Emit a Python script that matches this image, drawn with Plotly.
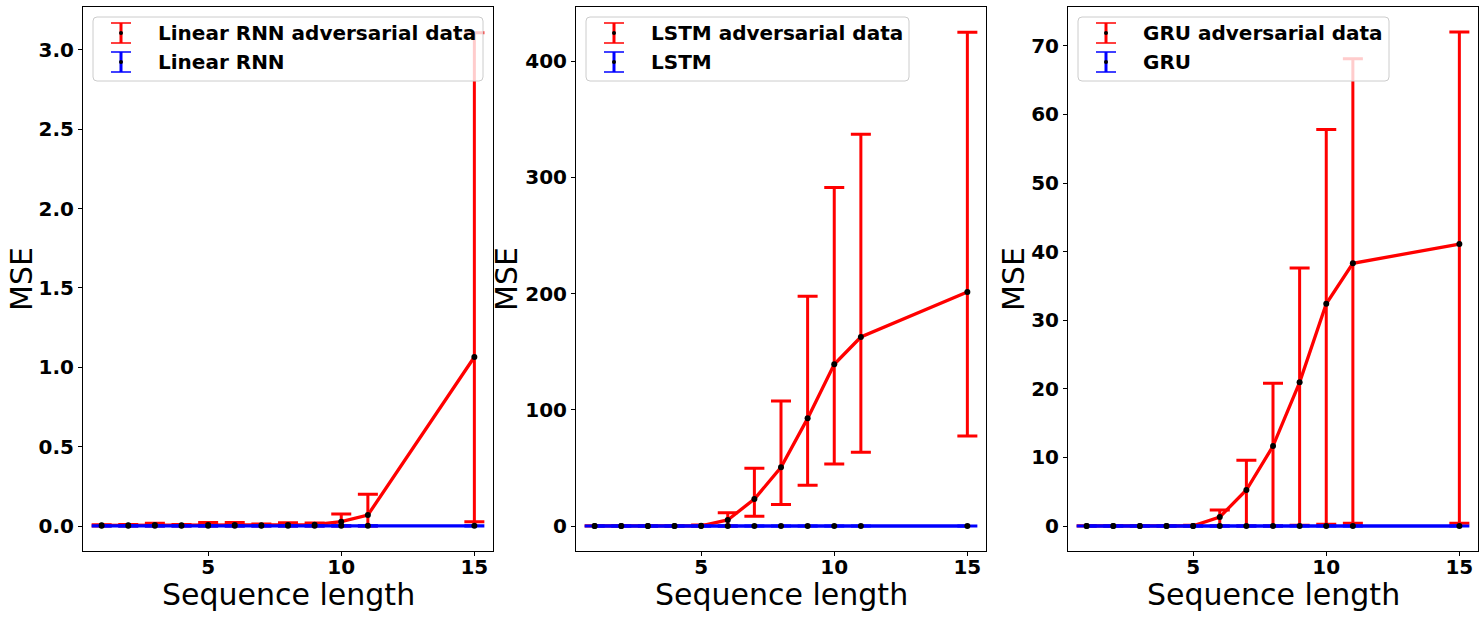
import numpy as np
import plotly.graph_objects as go
from plotly.subplots import make_subplots

W, H = 1484, 617

# sequence lengths on the x axis
seq_len = [1, 2, 3, 4, 5, 6, 7, 8, 9, 10, 11, 15]

# Linear RNN
rnn_adv_mean = [0.004, 0.004, 0.006, 0.004, 0.006, 0.007, 0.005, 0.006, 0.008, 0.027, 0.069, 1.065]
rnn_adv_hi = [0.008, 0.009, 0.017, 0.010, 0.022, 0.022, 0.012, 0.020, 0.019, 0.076, 0.200, 3.107]
rnn_adv_lo = [0.0, 0.0, 0.0, 0.0, 0.0, 0.0, 0.0, 0.0, 0.0, 0.0, 0.0, 0.027]
rnn_mean = [0.001, 0.001, 0.001, 0.001, 0.001, 0.001, 0.001, 0.001, 0.001, 0.001, 0.001, 0.001]
rnn_hi = [0.002, 0.002, 0.002, 0.002, 0.002, 0.002, 0.002, 0.002, 0.002, 0.002, 0.002, 0.002]
rnn_lo = [0.0, 0.0, 0.0, 0.0, 0.0, 0.0, 0.0, 0.0, 0.0, 0.0, 0.0, 0.0]

# LSTM
lstm_adv_mean = [0.05, 0.05, 0.05, 0.05, 0.2, 5.2, 23.2, 50.5, 92.6, 139.1, 162.6, 201.3]
lstm_adv_hi = [0.3, 0.3, 0.3, 0.3, 0.8, 11.5, 49.6, 107.5, 197.6, 291.3, 337.0, 424.7]
lstm_adv_lo = [0.0, 0.0, 0.0, 0.0, 0.0, 0.0, 8.3, 18.6, 35.0, 53.3, 63.4, 77.4]
lstm_mean = [0.02, 0.02, 0.02, 0.02, 0.02, 0.02, 0.02, 0.02, 0.02, 0.02, 0.02, 0.02]
lstm_hi = [0.1, 0.1, 0.1, 0.1, 0.1, 0.1, 0.1, 0.1, 0.1, 0.1, 0.1, 0.1]
lstm_lo = [0.0, 0.0, 0.0, 0.0, 0.0, 0.0, 0.0, 0.0, 0.0, 0.0, 0.0, 0.0]

# GRU
gru_adv_mean = [0.01, 0.01, 0.01, 0.01, 0.02, 1.31, 5.25, 11.66, 20.95, 32.4, 38.3, 41.1]
gru_adv_hi = [0.05, 0.05, 0.05, 0.05, 0.1, 2.33, 9.6, 20.8, 37.6, 57.8, 68.1, 72.0]
gru_adv_lo = [0.0, 0.0, 0.0, 0.0, 0.0, 0.0, 0.0, 0.0, 0.1, 0.25, 0.4, 0.4]
gru_mean = [0.005, 0.005, 0.005, 0.005, 0.005, 0.005, 0.005, 0.005, 0.005, 0.005, 0.005, 0.005]
gru_hi = [0.02, 0.02, 0.02, 0.02, 0.02, 0.02, 0.02, 0.02, 0.02, 0.02, 0.02, 0.02]
gru_lo = [0.0, 0.0, 0.0, 0.0, 0.0, 0.0, 0.0, 0.0, 0.0, 0.0, 0.0, 0.0]

panels = [
    ("Linear RNN", (rnn_adv_mean, rnn_adv_hi, rnn_adv_lo), (rnn_mean, rnn_hi, rnn_lo),
     [-0.1575, 3.270], [0, 0.5, 1.0, 1.5, 2.0, 2.5, 3.0], ".1f"),
    ("LSTM", (lstm_adv_mean, lstm_adv_hi, lstm_adv_lo), (lstm_mean, lstm_hi, lstm_lo),
     [-21.5, 446.5], [0, 100, 200, 300, 400], "d"),
    ("GRU", (gru_adv_mean, gru_adv_hi, gru_adv_lo), (gru_mean, gru_hi, gru_lo),
     [-3.64, 75.66], [0, 10, 20, 30, 40, 50, 60, 70], "d"),
]

# plot area edges in pixels (left spine, right spine)
x_edges = [(83, 493), (576, 986), (1068, 1478)]
top_px, bot_px = 7, 551
mse_x = [21, 506, 1013]
legend_right = [483, 909, 1389]

FONT = "DejaVu Sans"


def px(x):
    return x / W


def py(y):
    return 1 - y / H


def err_trace(mean, hi, lo, color, name):
    mean = np.array(mean)
    return go.Scatter(
        x=seq_len, y=mean, mode="lines+markers", name=name,
        line=dict(color=color, width=3.3),
        marker=dict(color="black", size=6),
        error_y=dict(type="data", symmetric=False,
                     array=np.array(hi) - mean, arrayminus=mean - np.array(lo),
                     color=color, thickness=3, width=10),
        showlegend=False,
    )


fig = make_subplots(rows=1, cols=3)

shapes = []
annotations = []
for i, (label, adv, clean, yr, ytick, fmt) in enumerate(panels):
    col = i + 1
    fig.add_trace(err_trace(*adv, "#ff0000", label + " adversarial data"), row=1, col=col)
    fig.add_trace(err_trace(*clean, "#0000ff", label), row=1, col=col)

    x0, x1 = x_edges[i]
    axis_style = dict(showline=True, mirror=True, linecolor="black", linewidth=1,
                      ticks="outside", ticklen=4, tickcolor="black", showgrid=False,
                      zeroline=False, tickfont=dict(family=FONT, size=20, color="black",
                                                    weight="bold"))
    fig.update_xaxes(domain=[px(x0), px(x1)], range=[0.3, 15.7], tickvals=[5, 10, 15],
                     ticklabelstandoff=-6, row=1, col=col, **axis_style)
    fig.update_yaxes(domain=[py(bot_px), py(top_px)], range=yr, tickvals=ytick,
                     tickformat=fmt, row=1, col=col, **axis_style)

    # axis titles
    annotations.append(dict(text="MSE", x=px(mse_x[i]), y=py((top_px + bot_px) / 2),
                            xref="paper", yref="paper", textangle=-90, showarrow=False,
                            xanchor="center", yanchor="middle",
                            font=dict(family=FONT, size=30, color="black")))
    annotations.append(dict(text="Sequence length", x=px((x0 + x1) / 2), y=py(594),
                            xref="paper", yref="paper", showarrow=False,
                            xanchor="center", yanchor="middle",
                            font=dict(family=FONT, size=30, color="black")))

    # legend box (matplotlib style, semi-transparent, rounded)
    lx0, lx1, ly0, ly1, r = x0 + 10, legend_right[i], 17, 81, 4
    path = (f"M {px(lx0 + r)} {py(ly0)} L {px(lx1 - r)} {py(ly0)} "
            f"Q {px(lx1)} {py(ly0)} {px(lx1)} {py(ly0 + r)} "
            f"L {px(lx1)} {py(ly1 - r)} Q {px(lx1)} {py(ly1)} {px(lx1 - r)} {py(ly1)} "
            f"L {px(lx0 + r)} {py(ly1)} Q {px(lx0)} {py(ly1)} {px(lx0)} {py(ly1 - r)} "
            f"L {px(lx0)} {py(ly0 + r)} Q {px(lx0)} {py(ly0)} {px(lx0 + r)} {py(ly0)} Z")
    shapes.append(dict(type="path", path=path, xref="paper", yref="paper", layer="above",
                       fillcolor="rgba(255,255,255,0.8)", line=dict(color="#cccccc", width=1)))

    hx = x0 + 38
    for (yc, color, txt) in [(33, "#ff0000", label + " adversarial data"), (62, "#0000ff", label)]:
        shapes.append(dict(type="line", xref="paper", yref="paper", layer="above",
                           x0=px(hx), x1=px(hx), y0=py(yc - 10), y1=py(yc + 10),
                           line=dict(color=color, width=3)))
        for yy in (yc - 10, yc + 10):
            shapes.append(dict(type="line", xref="paper", yref="paper", layer="above",
                               x0=px(hx - 10), x1=px(hx + 10), y0=py(yy), y1=py(yy),
                               line=dict(color=color, width=1.5)))
        shapes.append(dict(type="circle", xref="paper", yref="paper", layer="above",
                           x0=px(hx - 2), x1=px(hx + 2), y0=py(yc - 2), y1=py(yc + 2),
                           fillcolor="black", line=dict(color="black", width=0)))
        annotations.append(dict(text=txt, x=px(x0 + 73), y=py(yc), xref="paper", yref="paper",
                                showarrow=False, xanchor="left", yanchor="middle",
                                font=dict(family=FONT, size=20, color="black", weight="bold")))

fig.update_layout(
    width=W, height=H,
    margin=dict(l=0, r=0, t=0, b=0),
    paper_bgcolor="white", plot_bgcolor="white",
    shapes=shapes, annotations=annotations,
    showlegend=False,
)

# drop the page's default body margin so the figure sits at the window corner
fig.write_html("out.html", config={"displayModeBar": False},
               post_script="document.body.style.margin='0';")
